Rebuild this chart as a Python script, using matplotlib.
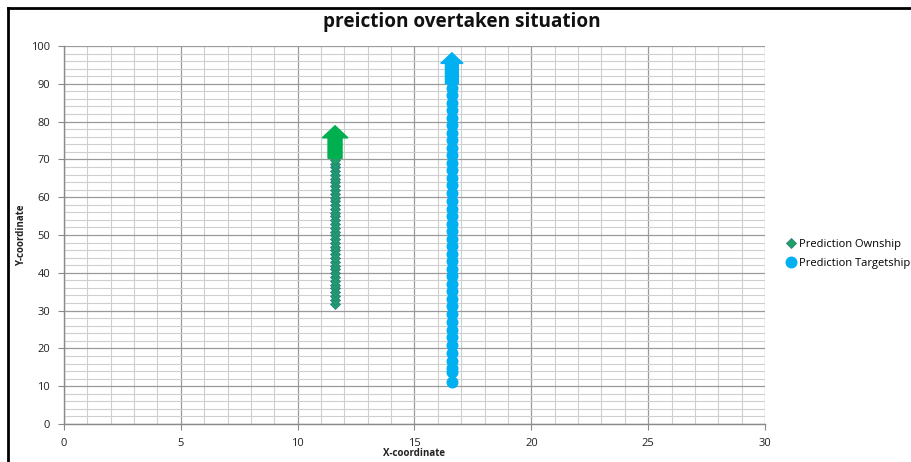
import matplotlib
matplotlib.use("Agg")
import matplotlib.pyplot as plt
from matplotlib.lines import Line2D
from matplotlib.ticker import MultipleLocator

title = "preiction overtaken situation"
x_label = "X-coordinate"
y_label = "Y-coordinate"
series_names = ["Prediction Ownship", "Prediction Targetship"]

own_x = 11.6
own_y = [31.8, 32.9, 33.9, 34.9, 35.9, 36.9, 37.9, 38.9, 39.9, 40.9,
         41.9, 42.9, 43.9, 44.9, 45.9, 46.9, 47.9, 48.9, 49.9, 50.9,
         51.9, 52.9, 53.9, 54.9, 55.9, 56.9, 57.9, 58.9, 59.9, 60.9,
         61.9, 62.9, 63.9, 64.9, 65.9, 66.9, 67.9, 68.9, 69.9]

tgt_x = 16.6
tgt_y = [11.2, 13.8, 14.8, 16.7, 18.8, 20.9, 23.0, 25.0, 27.1, 29.0,
         31.1, 33.0, 35.1, 37.0, 39.1, 41.0, 43.1, 45.0, 47.1, 49.0,
         51.1, 53.0, 55.1, 57.0, 59.1, 61.0, 63.1, 65.0, 67.1, 69.0,
         71.1, 73.0, 75.1, 77.0, 79.1, 81.0, 83.1, 85.0, 87.1, 89.0]

# heading arrows: (x, y_start, length)
own_arrow = (11.6, 70.3, 8.6)
tgt_arrow = (16.6, 90.0, 8.2)

fig = plt.figure(figsize=(9.12, 4.62), dpi=100)
ax = fig.add_axes([64/912, 38/462, (765-64)/912, (424-46)/462])

ax.set_xlim(0, 30)
ax.set_ylim(0, 100)
ax.xaxis.set_major_locator(MultipleLocator(5))
ax.xaxis.set_minor_locator(MultipleLocator(1))
ax.yaxis.set_major_locator(MultipleLocator(10))
ax.yaxis.set_minor_locator(MultipleLocator(2))
ax.grid(which="major", color="#9a9a9a", linewidth=0.9, zorder=0)
ax.grid(which="minor", color="#cfcfcf", linewidth=0.8, zorder=0)
ax.set_axisbelow(True)
for s in ["top", "right"]:
    ax.spines[s].set_visible(False)
for s in ["left", "bottom"]:
    ax.spines[s].set_color("#8a8a8a")
    ax.spines[s].set_linewidth(1.0)
ax.tick_params(which="major", direction="out", length=4, color="#8a8a8a",
               labelsize=8, labelcolor="#222222", pad=6)
ax.tick_params(which="minor", length=0)
for lab in ax.get_xticklabels() + ax.get_yticklabels():
    lab.set_fontfamily("Open Sans")

ax.plot([own_x]*len(own_y), own_y, linestyle="none", marker="D",
        markersize=4.6, color="#1fa064", markeredgecolor="#2a7f8a",
        markeredgewidth=0.6, label=series_names[0], zorder=3)
ax.plot([tgt_x]*len(tgt_y), tgt_y, linestyle="none", marker="o",
        markersize=7.6, color="#00b0f0", markeredgecolor="#00b0f0",
        label=series_names[1], zorder=3)

ax.arrow(own_arrow[0], own_arrow[1], 0, own_arrow[2], width=0.6,
         head_width=1.1, head_length=3.2, length_includes_head=True,
         color="#00b050", zorder=4)
ax.arrow(tgt_arrow[0], tgt_arrow[1], 0, tgt_arrow[2], width=0.55,
         head_width=0.95, head_length=2.8, length_includes_head=True,
         color="#00b0f0", zorder=4)

fig.text(462/912, 1 - 22/462, title, ha="center", va="center",
         fontsize=13.7, fontweight="bold", family="Open Sans", color="#111111")
fig.text(414/912, 1 - 454/462, x_label, ha="center", va="center",
         fontsize=7, fontweight="bold", family="Open Sans", color="#222222")
fig.text(22/912, 1 - 235/462, y_label, ha="center", va="center",
         fontsize=7, fontweight="bold", family="Open Sans", color="#222222",
         rotation=90)

leg = fig.legend(handles=ax.get_lines(), loc="upper left",
                 bbox_to_anchor=(788/912, 1 - 239/462), frameon=False,
                 prop={"family": "Open Sans", "size": 8},
                 handlelength=0.6, handletextpad=0.35, labelspacing=0.75,
                 borderaxespad=0, borderpad=0)

fig.add_artist(Line2D([8/912, 1.0], [1 - 8/462, 1 - 8/462],
                      transform=fig.transFigure, color="black", linewidth=2))
fig.add_artist(Line2D([8/912, 8/912], [0, 1 - 8/462],
                      transform=fig.transFigure, color="black", linewidth=2))

fig.savefig("out.png", dpi=100)
